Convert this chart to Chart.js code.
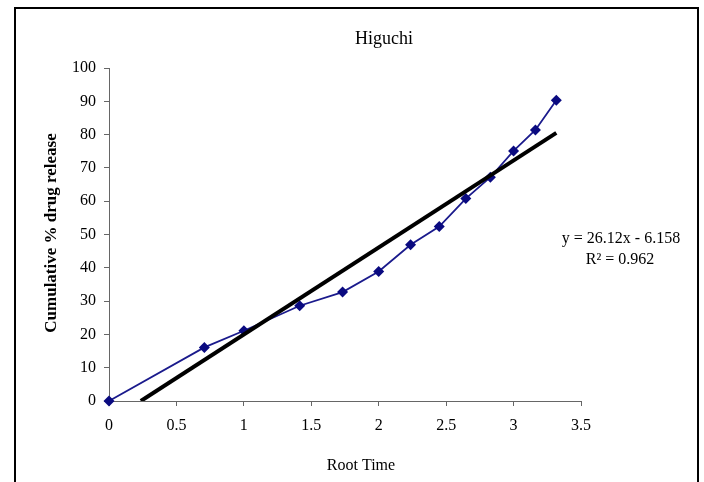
<!DOCTYPE html>
<html>
<head>
<meta charset="utf-8">
<script src="https://cdn.jsdelivr.net/npm/chart.js@4.4.0/dist/chart.umd.min.js"></script>
<style>
  html, body { margin: 0; padding: 0; background: #fff; }
  #wrap { position: relative; width: 704px; height: 482px; }
</style>
</head>
<body>
<div id="wrap"><canvas id="c" width="704" height="482"></canvas></div>
<script>
const chartTitle = "Higuchi";
const xTitle = "Root Time";
const yTitle = "Cumulative % drug release";
const rootTime = [0, 0.707, 1, 1.414, 1.732, 2, 2.236, 2.449, 2.646, 2.828, 3, 3.162, 3.317];
const releasePct = [0, 16.1, 21.1, 28.6, 32.7, 38.9, 46.9, 52.4, 60.8, 67.2, 75.1, 81.4, 90.3];
const trendX = [0.236, 3.317];
const trendY = [0, 80.5];
const equationLines = ["y = 26.12x - 6.158", "R\u00b2 = 0.962"];
const xTicks = [0, 0.5, 1, 1.5, 2, 2.5, 3, 3.5];
const yTicks = [0, 10, 20, 30, 40, 50, 60, 70, 80, 90, 100];

const SERIF = "'Liberation Serif', 'Times New Roman', serif";

const decor = {
  id: 'decor',
  afterDraw(chart) {
    const ctx = chart.ctx;
    ctx.save();
    // outer frame
    ctx.strokeStyle = '#000';
    ctx.lineWidth = 2;
    ctx.strokeRect(15, 8, 683, 490);
    ctx.fillStyle = '#000';
    ctx.textAlign = 'center';
    ctx.textBaseline = 'middle';
    // title
    ctx.font = "18px " + SERIF;
    ctx.fillText(chartTitle, 384, 39);
    // x title
    ctx.font = "16px " + SERIF;
    ctx.fillText(xTitle, 361, 466);
    // y title
    ctx.save();
    ctx.translate(52, 233);
    ctx.rotate(-Math.PI / 2);
    ctx.font = "bold 17px " + SERIF;
    ctx.fillText(yTitle, 0, 0);
    ctx.restore();
    // equation
    ctx.font = "16px " + SERIF;
    ctx.fillText(equationLines[0], 621, 239);
    ctx.fillText(equationLines[1], 620, 260);
    ctx.restore();
  }
};

new Chart(document.getElementById('c'), {
  type: 'scatter',
  data: {
    datasets: [
      {
        label: 'Release',
        data: rootTime.map((x, i) => ({ x: x, y: releasePct[i] })),
        showLine: true,
        clip: false,
        borderColor: '#1a1a8c',
        backgroundColor: '#0a0a80',
        borderWidth: 1.8,
        pointStyle: 'rectRot',
        pointRadius: 5.5,
        pointBorderWidth: 0,
        order: 2
      },
      {
        label: 'Linear',
        data: trendX.map((x, i) => ({ x: x, y: trendY[i] })),
        showLine: true,
        borderColor: '#000',
        borderWidth: 4,
        pointRadius: 0,
        order: 1
      }
    ]
  },
  options: {
    responsive: false,
    animation: false,
    events: [],
    layout: { padding: { left: 0, right: 123, top: 68, bottom: 0 } },
    plugins: { legend: { display: false }, tooltip: { enabled: false }, title: { display: false } },
    scales: {
      x: {
        type: 'linear',
        min: 0, max: 3.5,
        afterBuildTicks(s) { s.ticks = xTicks.map(v => ({ value: v })); },
        afterFit(s) { s.height = 81; },
        ticks: { color: '#000', font: { family: SERIF, size: 16 }, padding: 10, maxRotation: 0, autoSkip: false,
                 callback: (v) => String(v) },
        grid: { display: true, drawOnChartArea: false, drawTicks: true, tickLength: 5, color: '#666' },
        border: { display: true, color: '#666', width: 1 }
      },
      y: {
        type: 'linear',
        min: 0, max: 100,
        afterBuildTicks(s) { s.ticks = yTicks.map(v => ({ value: v })); },
        afterFit(s) { s.width = 109; },
        ticks: { color: '#000', font: { family: SERIF, size: 16 }, padding: 8, autoSkip: false,
                 callback: (v) => String(v) },
        grid: { display: true, drawOnChartArea: false, drawTicks: true, tickLength: 5, color: '#666' },
        border: { display: true, color: '#666', width: 1 }
      }
    }
  },
  plugins: [decor]
});
</script>
</body>
</html>
